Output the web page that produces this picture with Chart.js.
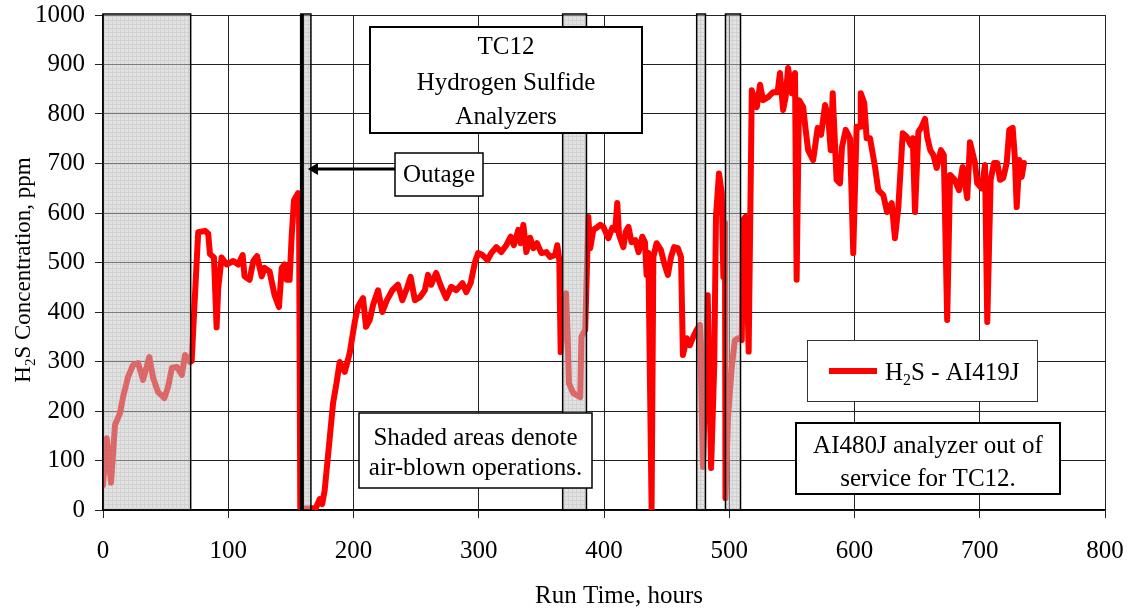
<!DOCTYPE html>
<html>
<head>
<meta charset="utf-8">
<script src="https://cdn.jsdelivr.net/npm/chart.js@4.4.1/dist/chart.umd.min.js"></script>
<style>
    html, body { margin: 0; padding: 0; background: #FFFFFF; }
    #wrap { width: 1133px; height: 614px; }
</style>
</head>
<body>
<div id="wrap"><canvas id="grafico-h2s"></canvas></div>
<script>
// run time (hours) and H2S reading (ppm)
const hours = [
    0, 3, 6.4, 9.6, 13.6, 16, 20, 24, 28, 32, 37, 40, 44, 49, 52, 55, 59, 63, 65.5, 69.5,
    70.8, 74, 76, 81.5, 84, 85.4, 88.6, 90.7, 92, 94.7, 98.7, 104, 108, 111.5, 113, 117, 120, 123,
    126.7, 129, 133, 137, 140.5, 142.7, 145, 146.7, 149, 150.6, 152.5, 155.7, 156.5, 157.5,
    160, 165, 170, 173, 175, 177, 183.7, 186.5, 189, 193, 197, 201, 203.6, 207.6, 210, 213, 215.6,
    219.6, 223, 226.7, 231, 235.5, 239, 242.7, 245.6, 249, 253, 257, 259.5, 262, 266, 270, 274,
    278, 282, 287, 290, 293.5, 297, 299.5, 303, 307, 310, 314, 318, 322, 325.5, 328, 331.6, 333.5,
    335.6, 338, 341, 343.6, 346.5, 350, 354, 357, 361, 362.7, 364.3, 365.4,
    369.7, 371, 372, 375.5, 381, 382, 385, 387.5, 389, 391.5, 394, 397, 399.5, 403.5, 406.6, 409,
    410.6, 412, 415.5, 417.3, 419.5, 422, 425, 427.6, 430.6, 432.7, 434, 435.4, 438, 439.4, 442,
    445.5, 448, 451, 453.5, 456, 459, 461.5, 463, 466, 468.6, 471.3, 474, 476.6, 479, 482.8, 485.5,
    488, 489.4, 491.8, 494, 495.3, 496.6, 497, 499, 502, 504.5, 507, 510, 511, 513, 515.5,
    518, 522, 524.6, 527, 531, 535, 538.6, 540.5, 543, 545, 547, 550, 552.5, 553.8, 555.7, 559, 561,
    563, 567, 570.6, 573.3, 576.5, 579, 581, 582.6, 585.7, 588.4, 590, 593, 596.4, 599, 601.7, 604.4,
    605, 607.8, 609.7, 612.4, 616.4, 619, 623, 626, 629.7, 632.3, 635, 638.5, 641.7, 645, 646.5,
    648.3, 651, 653.6, 656.3, 658, 660.5, 663, 665.6, 669, 671.3, 674, 676.3, 680, 683.4, 686.3, 690,
    692.2, 696.2, 698, 701.5, 704.2, 706, 708.7, 711.4, 714, 716.2, 718.8, 721.5, 723.6, 726.3, 728,
    729.5, 731.6, 733.5, 735.3
];
const h2sPpm = [
    50, 145, 55, 172, 196, 228, 269, 293, 297, 263, 309, 267, 238, 226, 249, 287, 289, 273, 313, 299,
    301, 462, 561, 564, 558, 517, 510, 369, 448, 510, 496, 503, 496, 515, 472, 465, 503, 513,
    472, 489, 482, 434, 410, 489, 496, 465, 465, 551, 626, 640, 612, 5,
    3, 3, 4, 22, 12, 40, 216, 257, 299, 279, 317, 380, 411, 428, 370, 384, 414,
    444, 400, 424, 444, 455, 424, 448, 471, 424, 430, 444, 475, 455, 479, 451, 428,
    451, 444, 458, 440, 458, 501, 519, 515, 505, 519, 531, 521, 535, 552, 535, 566, 539,
    576, 521, 550, 529, 539, 519, 521, 511, 515, 535, 505, 319,
    438, 350, 256, 236, 228, 350, 364, 592, 529, 566, 570, 576, 572, 549, 570, 566,
    620, 556, 531, 562, 572, 541, 545, 521, 552, 541, 475, 519, 4, 511, 539,
    525, 499, 475, 511, 531, 529, 511, 313, 347, 333, 350, 364, 374, 87, 434, 85,
    289, 592, 680, 640, 471, 580, 24, 188, 289, 343, 347, 343, 586, 592, 320,
    848, 814, 859, 828, 834, 844, 844, 883, 808, 834, 893, 842, 883, 465, 828, 814, 768,
    727, 707, 772, 758, 818, 794, 727, 842, 667, 660, 733, 768, 751, 519, 774, 774,
    842, 822, 751, 751, 693, 646, 636, 602, 620, 549, 612, 761, 754, 737, 751,
    602, 764, 774, 790, 754, 727, 717, 691, 727, 717, 384, 677, 667, 646, 693, 630,
    743, 701, 660, 650, 697, 380, 667, 701, 701, 667, 671, 701, 768, 772, 713,
    612, 707, 673, 701
];

// air-blown periods (hours)
const airBlownStart = [0, 158, 367, 474, 497];
const airBlownEnd = [70, 166, 386, 481, 509];
const outageIndex = 1;

const FONT = "'Liberation Serif', 'Times New Roman', serif";

function textParts(ctx, parts, x, y, size, align) {
    const widths = parts.map(([t, sub]) => {
        ctx.font = (sub ? Math.round(size * 0.65) : size) + 'px ' + FONT;
        return ctx.measureText(t).width;
    });
    const total = widths.reduce((a, b) => a + b, 0);
    let cx = align === 'center' ? x - total / 2 : x;
    ctx.textAlign = 'left';
    ctx.textBaseline = 'alphabetic';
    parts.forEach(([t, sub], i) => {
        ctx.font = (sub ? Math.round(size * 0.65) : size) + 'px ' + FONT;
        ctx.fillText(t, cx, sub ? y + size * 0.2 : y);
        cx += widths[i];
    });
}

function noteBox(ctx, x, y, w, h, lines, lineW) {
    ctx.fillStyle = '#FFFFFF';
    ctx.fillRect(x, y, w, h);
    ctx.strokeStyle = '#000000';
    ctx.lineWidth = lineW;
    ctx.strokeRect(x, y, w, h);
    ctx.fillStyle = '#000000';
    ctx.font = '25px ' + FONT;
    ctx.textAlign = 'center';
    ctx.textBaseline = 'middle';
    lines.forEach(([t, ly]) => ctx.fillText(t, x + w / 2, ly));
}

const shadePlugin = {
    id: 'airBlown',
    afterDatasetsDraw(chart) {
        const { ctx, chartArea, scales } = chart;
        const tile = document.createElement('canvas');
        tile.width = 4;
        tile.height = 4;
        const t = tile.getContext('2d');
        t.fillStyle = 'rgba(198,198,198,0.5)';
        t.fillRect(0, 0, 4, 4);
        t.fillStyle = 'rgba(150,150,150,0.22)';
        t.fillRect(0, 0, 4, 1);
        t.fillRect(0, 1, 1, 3);
        const pattern = ctx.createPattern(tile, 'repeat');

        ctx.save();
        airBlownStart.forEach((s, i) => {
            const x0 = scales.x.getPixelForValue(s);
            const x1 = scales.x.getPixelForValue(airBlownEnd[i]);
            ctx.fillStyle = pattern;
            ctx.fillRect(x0, chartArea.top, x1 - x0, chartArea.bottom - chartArea.top);
            ctx.strokeStyle = '#000000';
            ctx.lineWidth = 1.5;
            ctx.strokeRect(x0, chartArea.top - 1, x1 - x0, chartArea.bottom - chartArea.top + 1);
            if (i === outageIndex) {
                ctx.fillStyle = '#000000';
                ctx.fillRect(x0 - 1, chartArea.top - 1, 4, chartArea.bottom - chartArea.top + 1);
            }
        });
        ctx.restore();
    },
    afterDraw(chart) {
        const { ctx, scales } = chart;
        ctx.save();

        noteBox(ctx, 370, 27, 272, 106, [['TC12', 47], ['Hydrogen Sulfide', 83], ['Analyzers', 117]], 2);
        noteBox(ctx, 395, 153, 88, 43, [['Outage', 175]], 1.5);
        noteBox(ctx, 359, 413, 233, 75, [['Shaded areas denote', 438], ['air-blown operations.', 468]], 1.5);
        noteBox(ctx, 796, 423, 264, 71, [['AI480J analyzer out of', 446], ['service for TC12.', 479]], 2);

        // arrow to the outage
        const tip = scales.x.getPixelForValue(airBlownEnd[outageIndex]) - 3;
        const ay = 169;
        ctx.strokeStyle = '#000000';
        ctx.lineWidth = 3;
        ctx.beginPath();
        ctx.moveTo(395, ay);
        ctx.lineTo(tip + 8, ay);
        ctx.stroke();
        ctx.fillStyle = '#000000';
        ctx.beginPath();
        ctx.moveTo(tip, ay);
        ctx.lineTo(tip + 10, ay - 6);
        ctx.lineTo(tip + 10, ay + 6);
        ctx.closePath();
        ctx.fill();

        // legend
        ctx.fillStyle = '#FFFFFF';
        ctx.fillRect(807, 340, 230, 61);
        ctx.strokeStyle = '#333333';
        ctx.lineWidth = 1;
        ctx.strokeRect(807.5, 340.5, 230, 61);
        ctx.strokeStyle = '#FF0000';
        ctx.lineWidth = 6;
        ctx.beginPath();
        ctx.moveTo(829, 371);
        ctx.lineTo(877, 371);
        ctx.stroke();
        ctx.fillStyle = '#000000';
        textParts(ctx, [['H', false], ['2', true], ['S - AI419J', false]], 885, 380, 25, 'left');

        // axis titles
        ctx.fillStyle = '#000000';
        ctx.font = '25px ' + FONT;
        ctx.textAlign = 'center';
        ctx.textBaseline = 'middle';
        ctx.fillText('Run Time, hours', 619, 596);

        ctx.translate(22, 270);
        ctx.rotate(-Math.PI / 2);
        textParts(ctx, [['H', false], ['2', true], ['S Concentration, ppm', false]], 0, 8, 23, 'center');

        ctx.restore();
    }
};

const ctx = document.getElementById('grafico-h2s');

new Chart(ctx, {
    type: 'line',
    data: {
        datasets: [{
            label: 'H2S - AI419J',
            data: hours.map((h, i) => ({ x: h, y: h2sPpm[i] })),
            borderColor: '#FF0000',
            backgroundColor: '#FF0000',
            borderWidth: 6,
            borderJoinStyle: 'round',
            borderCapStyle: 'round',
            pointRadius: 0,
            tension: 0,
            fill: false
        }]
    },
    options: {
        responsive: true,
        maintainAspectRatio: false,
        animation: false,
        layout: { padding: { top: 15, right: 28, bottom: 0, left: 0 } },
        plugins: {
            legend: { display: false },
            tooltip: { enabled: false }
        },
        scales: {
            x: {
                type: 'linear',
                min: 0,
                max: 800,
                ticks: {
                    stepSize: 100,
                    color: '#000000',
                    padding: 18,
                    maxRotation: 0,
                    font: { family: FONT, size: 25 },
                    callback: v => String(v)
                },
                grid: { color: '#222222', lineWidth: 1, tickLength: 8 },
                border: { color: '#000000', width: 1.5 },
                afterFit: s => {
                    s.height = 104;
                    s.paddingLeft = 0;
                    s.paddingRight = 0;
                }
            },
            y: {
                min: 0,
                max: 1000,
                ticks: {
                    stepSize: 100,
                    color: '#000000',
                    padding: 10,
                    font: { family: FONT, size: 25 },
                    callback: v => String(v)
                },
                grid: { color: '#222222', lineWidth: 1, tickLength: 8 },
                border: { color: '#000000', width: 1.5 },
                afterFit: s => {
                    s.width = 103;
                    s.paddingTop = 0;
                    s.paddingBottom = 0;
                }
            }
        }
    },
    plugins: [shadePlugin]
});
</script>
</body>
</html>
